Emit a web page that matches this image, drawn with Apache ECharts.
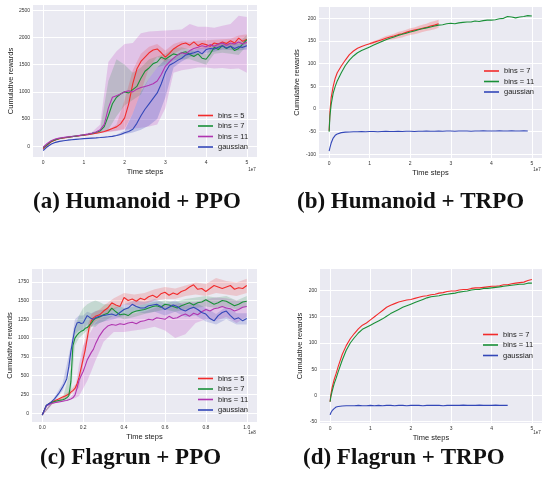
<!DOCTYPE html>
<html>
<head>
<meta charset="utf-8">
<script src="https://cdn.jsdelivr.net/npm/echarts@6/dist/echarts.min.js"></script>
<style>
  html, body { margin: 0; padding: 0; background: #fff; }
  #chart { width: 543px; height: 478px; }
</style>
</head>
<body>
<div id="chart"></div>
<script>
// ---- (a) Humanoid + PPO, time in 1e7 steps ----
const stepsA = [0,0.1,0.2,0.3,0.4,0.5,0.6,0.7,0.8,0.9,1,1.1,1.2,1.3,1.4,1.5,1.6,1.7,1.8,1.9,2,2.1,2.2,2.3,2.4,2.5,2.6,2.7,2.8,2.9,3,3.1,3.2,3.3,3.4,3.5,3.6,3.7,3.8,3.9,4,4.1,4.2,4.3,4.4,4.5,4.6,4.7,4.8,4.9,5];
const bins5A = [-50,20,80,115,135,150,160,172,182,192,202,212,225,238,252,270,295,325,355,410,520,780,1150,1420,1560,1640,1720,1770,1790,1720,1640,1710,1790,1840,1880,1900,1860,1920,1850,1890,1870,1840,1900,1880,1920,1890,1940,1900,1990,1930,1970];
const bins7A = [-30,30,90,120,140,155,165,175,185,195,208,220,235,255,280,360,560,780,900,960,1000,980,1040,1100,1250,1380,1440,1520,1550,1640,1600,1650,1700,1680,1720,1740,1690,1650,1700,1620,1600,1700,1820,1780,1850,1800,1840,1760,1800,1880,1960];
const bins11A = [-20,50,100,130,148,160,170,178,188,198,210,222,238,260,300,400,700,900,930,960,1000,1020,1000,1050,1080,1100,1120,1150,1200,1320,1470,1550,1620,1680,1720,1700,1760,1800,1820,1850,1830,1870,1840,1880,1900,1860,1900,1880,1920,1880,1920];
const gaussA = [-80,-10,40,70,88,100,110,118,125,132,138,143,148,152,158,165,172,180,195,215,245,270,310,420,560,680,780,880,980,1150,1360,1490,1530,1580,1620,1680,1700,1720,1750,1700,1780,1800,1790,1820,1850,1810,1840,1800,1830,1820,1850];

const bandStepsA = [0,0.2,0.4,0.6,0.8,1,1.2,1.4,1.6,1.8,2,2.2,2.4,2.6,2.8,3,3.2,3.4,3.6,3.8,4,4.2,4.4,4.6,4.8,5];
const bins5LoA = [-60,70,130,155,175,195,215,240,265,290,320,600,1000,1450,1650,1550,1700,1780,1800,1780,1800,1820,1830,1850,1880,1880];
const bins5HiA = [-40,90,145,170,190,210,235,260,300,400,850,1400,1700,1830,1880,1760,1880,1930,1920,1940,1950,1960,1970,1980,2040,2060];
const bins7LoA = [-40,80,130,155,175,195,220,250,300,550,750,850,950,1250,1450,1500,1580,1600,1600,1550,1500,1700,1720,1700,1680,1850];
const bins7HiA = [-20,100,150,175,195,220,250,300,1200,1600,1500,1350,1450,1600,1650,1700,1800,1820,1780,1720,1700,1880,1920,1900,1900,2050];
const bins11LoA = [-40,80,130,155,175,195,215,240,260,280,300,320,340,360,400,700,1350,1400,1420,1450,1450,1430,1440,1420,1430,1350];
const bins11HiA = [0,120,165,185,200,225,260,400,1550,1750,1880,1900,2080,2110,2120,2130,2140,2150,2250,2200,2200,2180,2220,2250,2400,2380];
const gaussLoA = [-90,30,80,105,120,133,143,153,165,185,220,250,300,380,500,900,1450,1560,1640,1680,1720,1740,1780,1770,1760,1780];
const gaussHiA = [-70,50,95,115,130,143,153,165,180,210,290,600,1000,1250,1450,1600,1620,1700,1760,1800,1830,1850,1900,1880,1880,1900];

// ---- (b) Humanoid + TRPO and (d) Flagrun + TRPO, time in 1e7 steps ----
const stepsTrpo = [0,0.02,0.05,0.1,0.15,0.2,0.3,0.4,0.5,0.6,0.7,0.8,0.9,1,1.1,1.2,1.3,1.4,1.5,1.6,1.7,1.8,1.9,2,2.1,2.2,2.3,2.4,2.5,2.6,2.7,2.8,2.9,3,3.1,3.2,3.3,3.4,3.5,3.6,3.7,3.8,3.9,4,4.1,4.2,4.3,4.4,4.5,4.6,4.7,4.8,4.9,5];
const bins7B = [-48,-5,25,50,68,80,95,108,120,128,134,138,141,144,147,150,153,156,159,161,164,166,169,172,174,176,178,180,183,185,188];
const bins11B = [-50,-15,10,35,50,62,80,96,108,117,124,129,133,137,141,145,149,153,156,159,162,165,167,170,172,175,177,179,181,183,185,186,188,189,188,190,191,192,192,194,193,195,196,196,197,199,200,204,203,201,203,204,206,205];
const gaussB = [-93,-85,-75,-64,-58,-55,-52,-51,-50.5,-50,-50,-49.5,-50,-49.5,-49.5,-50,-49.5,-49,-49.5,-49.5,-49,-49.5,-49,-49,-49.5,-49,-49,-48.5,-49,-49,-48.5,-49,-48.5,-48.5,-49,-48.5,-48.5,-48.5,-49,-48.5,-48.5,-48,-48.5,-48.5,-48.5,-48,-48.5,-48.5,-48,-48.5,-48.5,-48,-48.5];
const bandStepsB = [1,1.1,1.2,1.3,1.4,1.5,1.6,1.7,1.8,1.9,2,2.1,2.2,2.3,2.4,2.5,2.6,2.7];
const bins7LoB = [141,144,146,149,151,153,154,156,158,161,163,165,167,170,172,174,176,179];
const bins7HiB = [147,150,153,157,161,163,166,170,172,175,178,180,183,186,188,192,194,197];

const bins7D = [-12,2,15,30,42,55,78,95,108,118,127,134,138,144,150,156,162,168,172,175,178,180,182,183,185,187,189,190,192,193,195,196,198,199,199,201,202,202,204,205,205,206,207,208,208,209,211,211,213,214,215,216,219,221];
const bins11D = [-12,-2,8,22,33,45,67,86,100,110,119,126,130,134,138,142,146,151,156,160,164,168,171,174,177,180,183,186,188,189,190,192,193,194,195,197,198,199,201,202,202,204,204,205,206,207,208,209,210,211,212,212,214,214];
const gaussD = [-37,-33,-29,-25,-22,-21,-20,-19.5,-19.5,-19.5,-19,-19.5,-19.5,-19,-19.5,-19,-19.5,-19,-19,-19.5,-19,-19,-19.5,-19,-19,-19,-19.5,-19,-19,-19,-19,-19.5,-19,-19,-19,-19,-18.5,-19,-19,-19,-18.5,-19,-19,-19,-18.5,-19,-19,-19];

// ---- (c) Flagrun + PPO, time in 1e8 steps ----
const stepsC = [0,0.02,0.04,0.06,0.08,0.1,0.11,0.12,0.13,0.14,0.15,0.16,0.17,0.18,0.19,0.2,0.21,0.22,0.23,0.24,0.25,0.26,0.28,0.3,0.32,0.34,0.36,0.38,0.4,0.42,0.44,0.46,0.48,0.5,0.52,0.54,0.56,0.58,0.6,0.62,0.64,0.66,0.68,0.7,0.72,0.74,0.76,0.78,0.8,0.82,0.84,0.86,0.88,0.9,0.92,0.94,0.96,0.98,1];
const bins5C = [-25,100,140,165,190,215,225,240,255,280,300,330,390,480,600,720,840,1000,1150,1230,1270,1290,1310,1360,1400,1470,1440,1420,1540,1500,1520,1490,1530,1510,1550,1570,1540,1590,1610,1570,1600,1580,1620,1640,1680,1710,1650,1660,1620,1660,1700,1680,1660,1680,1700,1650,1670,1660,1700];
const bins7C = [-25,100,135,155,170,180,190,205,230,420,900,1000,1040,1070,1090,1100,1130,1140,1170,1200,1240,1260,1280,1310,1330,1400,1350,1310,1320,1300,1340,1360,1370,1380,1400,1420,1430,1410,1450,1440,1420,1400,1430,1450,1470,1440,1470,1480,1510,1480,1450,1470,1500,1490,1460,1430,1450,1480,1490];
const bins11C = [-25,95,125,140,150,160,165,170,180,190,205,240,330,440,500,555,630,710,760,810,850,920,1030,1110,1160,1180,1170,1190,1180,1200,1210,1190,1220,1230,1250,1240,1270,1260,1250,1290,1260,1270,1300,1320,1290,1330,1310,1350,1380,1360,1390,1400,1420,1400,1390,1360,1380,1410,1420];
const gaussC = [-25,105,140,190,260,350,400,460,620,820,980,1130,1200,1210,1195,1200,1250,1300,1280,1260,1250,1270,1290,1300,1310,1320,1300,1340,1380,1400,1450,1420,1400,1400,1430,1440,1450,1420,1380,1410,1440,1420,1380,1360,1390,1410,1380,1340,1320,1260,1230,1300,1340,1360,1300,1250,1270,1230,1260];

const bandStepsC = [0,0.05,0.1,0.14,0.16,0.18,0.2,0.22,0.24,0.26,0.28,0.3,0.35,0.4,0.45,0.5,0.55,0.6,0.65,0.7,0.75,0.8,0.85,0.9,0.95,1];
const bins5LoC = [-30,120,180,250,300,340,650,950,1150,1220,1250,1300,1380,1450,1430,1450,1500,1520,1520,1560,1580,1560,1600,1580,1560,1600];
const bins5HiC = [-20,150,230,310,380,420,850,1150,1320,1350,1380,1430,1530,1600,1580,1600,1650,1680,1660,1700,1740,1720,1800,1760,1740,1790];
const bins7LoC = [-30,130,160,250,900,1000,1050,1100,1150,1150,1200,1220,1300,1250,1280,1320,1350,1380,1350,1380,1400,1420,1400,1420,1380,1420];
const bins7HiC = [-20,160,200,600,1150,1300,1400,1450,1480,1500,1480,1450,1450,1400,1420,1450,1480,1500,1480,1520,1540,1560,1540,1560,1500,1560];
const bins11LoC = [-30,130,150,190,200,230,330,430,560,700,820,950,1080,1080,1100,1120,1150,1100,1000,1050,1200,1250,1230,1280,1200,1280];
const bins11HiC = [-20,160,190,220,300,650,900,1000,1100,1200,1250,1280,1300,1320,1330,1350,1400,1450,1450,1480,1480,1520,1540,1530,1500,1500];
const gaussLoC = [-30,130,300,650,1050,1100,1100,1180,1150,1180,1200,1220,1250,1300,1350,1330,1350,1300,1350,1280,1300,1220,1180,1250,1180,1180];
const gaussHiC = [-20,170,400,900,1250,1300,1300,1350,1330,1360,1370,1380,1400,1450,1500,1480,1520,1460,1500,1430,1470,1400,1320,1420,1330,1330];

// tick labels
const ticksX7 = [0, 1, 2, 3, 4, 5];
const ticksX8 = [0, 0.2, 0.4, 0.6, 0.8, 1.0];
const ticksYA = [0, 500, 1000, 1500, 2000, 2500];
const ticksYB = [-100, -50, 0, 50, 100, 150, 200];
const ticksYC = [0, 250, 500, 750, 1000, 1250, 1500, 1750];
const ticksYD = [-50, 0, 50, 100, 150, 200];

const RED = '#f22b2b', GREEN = '#1a9038', PURPLE = '#b035b0', BLUE = '#3347b8';

function pairs(xs, ys) {
  return ys.map(function (y, i) { return [xs[i], y]; });
}

function line(name, xs, ys, color, idx) {
  return {
    type: 'line', name: name, xAxisIndex: idx, yAxisIndex: idx,
    data: pairs(xs, ys), symbol: 'none', z: 3,
    lineStyle: { width: 1.1, color: color }, itemStyle: { color: color }
  };
}

// shaded spread between lo and hi, drawn as one polygon
function band(xs, lo, hi, color, idx) {
  return {
    type: 'custom', xAxisIndex: idx, yAxisIndex: idx, silent: true, z: 2,
    data: xs.map(function (x, i) { return [x, lo[i], hi[i]]; }),
    encode: { x: 0, y: [1, 2] },
    renderItem: function (params, api) {
      if (params.dataIndex !== 0) return null;
      const top = xs.map(function (x, i) { return api.coord([x, hi[i]]); });
      const bot = xs.map(function (x, i) { return api.coord([x, lo[i]]); }).reverse();
      return { type: 'polygon', shape: { points: top.concat(bot) }, style: { fill: color } };
    }
  };
}

function plain(v) { return String(v); }

function xAxis(idx, min, max, ticks, fmt) {
  return {
    type: 'value', gridIndex: idx, min: min, max: max,
    name: 'Time steps', nameLocation: 'middle', nameGap: 11,
    nameTextStyle: { fontSize: 7.5, color: '#222' },
    axisLine: { show: false },
    axisTick: { show: false, customValues: ticks },
    axisLabel: { customValues: ticks, fontSize: 5, color: '#333', margin: 3, formatter: fmt || plain },
    splitLine: { lineStyle: { color: '#fff', width: 1 } }
  };
}

function yAxis(idx, min, max, ticks, gap) {
  return {
    type: 'value', gridIndex: idx, min: min, max: max,
    name: 'Cumulative rewards', nameLocation: 'middle', nameGap: gap,
    nameTextStyle: { fontSize: 7.5, color: '#222' },
    axisLine: { show: false },
    axisTick: { show: false, customValues: ticks },
    axisLabel: { customValues: ticks, fontSize: 5, color: '#333', margin: 3, formatter: plain },
    splitLine: { lineStyle: { color: '#fff', width: 1 } }
  };
}

function legend(left, top, names) {
  return {
    left: left, top: top, orient: 'vertical', data: names, padding: 0,
    formatter: function (n) { return n.slice(2); },
    icon: 'rect', itemWidth: 15, itemHeight: 1.6, itemGap: 1.5,
    textStyle: { fontSize: 7.5, lineHeight: 9, color: '#222' }
  };
}

function caption(tag, name, left, top) {
  return {
    text: '{r|' + tag + ' }{b|' + name + '}', left: left, top: top, padding: 0,
    textStyle: {
      rich: {
        r: { fontFamily: 'Liberation Serif', fontSize: 23, color: '#111' },
        b: { fontFamily: 'Liberation Serif', fontSize: 23, fontWeight: 'bold', color: '#111' }
      }
    }
  };
}

const grey = { show: true, backgroundColor: '#EAEAF2', borderWidth: 0 };

const option = {
  animation: false,
  textStyle: { fontFamily: 'Liberation Sans' },
  title: [
    caption('(a)', 'Humanoid + PPO', 33, 191),
    caption('(b)', 'Humanoid + TRPO', 297, 191),
    caption('(c)', 'Flagrun + PPO', 40, 447),
    caption('(d)', 'Flagrun + TRPO', 303, 447)
  ],
  grid: [
    Object.assign({ left: 33, top: 5, width: 224, height: 152 }, grey),
    Object.assign({ left: 319, top: 7, width: 223, height: 151 }, grey),
    Object.assign({ left: 32, top: 269, width: 225, height: 153 }, grey),
    Object.assign({ left: 320, top: 269, width: 222, height: 154 }, grey)
  ],
  xAxis: [
    xAxis(0, -0.25, 5.25, ticksX7),
    xAxis(1, -0.25, 5.25, ticksX7),
    xAxis(2, -0.05, 1.05, ticksX8, function (v) { return v.toFixed(1); }),
    xAxis(3, -0.25, 5.25, ticksX7)
  ],
  yAxis: [
    yAxis(0, -200, 2600, ticksYA, 17),
    yAxis(1, -108, 225, ticksYB, 18),
    yAxis(2, -117, 1920, ticksYC, 16),
    yAxis(3, -52.5, 241, ticksYD, 16)
  ],
  legend: [
    legend(198, 111, ['a:bins = 5', 'a:bins = 7', 'a:bins = 11', 'a:gaussian']),
    legend(484, 66.5, ['b:bins = 7', 'b:bins = 11', 'b:gaussian']),
    legend(198, 374, ['c:bins = 5', 'c:bins = 7', 'c:bins = 11', 'c:gaussian']),
    legend(483, 330, ['d:bins = 7', 'd:bins = 11', 'd:gaussian'])
  ],
  graphic: [
    { type: 'text', x: 252, y: 170, style: { text: '1e7', fontSize: 4.5, fill: '#333', align: 'center', verticalAlign: 'middle' } },
    { type: 'text', x: 537, y: 170, style: { text: '1e7', fontSize: 4.5, fill: '#333', align: 'center', verticalAlign: 'middle' } },
    { type: 'text', x: 252, y: 433, style: { text: '1e8', fontSize: 4.5, fill: '#333', align: 'center', verticalAlign: 'middle' } },
    { type: 'text', x: 537, y: 433, style: { text: '1e7', fontSize: 4.5, fill: '#333', align: 'center', verticalAlign: 'middle' } }
  ],
  series: [
    band(bandStepsA, bins11LoA, bins11HiA, 'rgba(190,60,190,0.22)', 0),
    band(bandStepsA, gaussLoA, gaussHiA, 'rgba(60,70,190,0.25)', 0),
    band(bandStepsA, bins7LoA, bins7HiA, 'rgba(30,140,60,0.18)', 0),
    band(bandStepsA, bins5LoA, bins5HiA, 'rgba(240,40,40,0.18)', 0),
    line('a:bins = 5', stepsA, bins5A, RED, 0),
    line('a:bins = 7', stepsA, bins7A, GREEN, 0),
    line('a:bins = 11', stepsA, bins11A, PURPLE, 0),
    line('a:gaussian', stepsA, gaussA, BLUE, 0),

    band(bandStepsB, bins7LoB, bins7HiB, 'rgba(255,60,60,0.25)', 1),
    line('b:bins = 7', stepsTrpo, bins7B, RED, 1),
    line('b:bins = 11', stepsTrpo, bins11B, GREEN, 1),
    line('b:gaussian', stepsTrpo, gaussB, BLUE, 1),

    band(bandStepsC, bins11LoC, bins11HiC, 'rgba(190,60,190,0.22)', 2),
    band(bandStepsC, gaussLoC, gaussHiC, 'rgba(60,70,190,0.2)', 2),
    band(bandStepsC, bins7LoC, bins7HiC, 'rgba(30,140,60,0.18)', 2),
    band(bandStepsC, bins5LoC, bins5HiC, 'rgba(240,40,40,0.18)', 2),
    line('c:bins = 5', stepsC, bins5C, RED, 2),
    line('c:bins = 7', stepsC, bins7C, GREEN, 2),
    line('c:bins = 11', stepsC, bins11C, PURPLE, 2),
    line('c:gaussian', stepsC, gaussC, BLUE, 2),

    line('d:bins = 7', stepsTrpo, bins7D, RED, 3),
    line('d:bins = 11', stepsTrpo, bins11D, GREEN, 3),
    line('d:gaussian', stepsTrpo, gaussD, BLUE, 3)
  ]
};

const chart = echarts.init(document.getElementById('chart'));
chart.setOption(option);
</script>
</body>
</html>
